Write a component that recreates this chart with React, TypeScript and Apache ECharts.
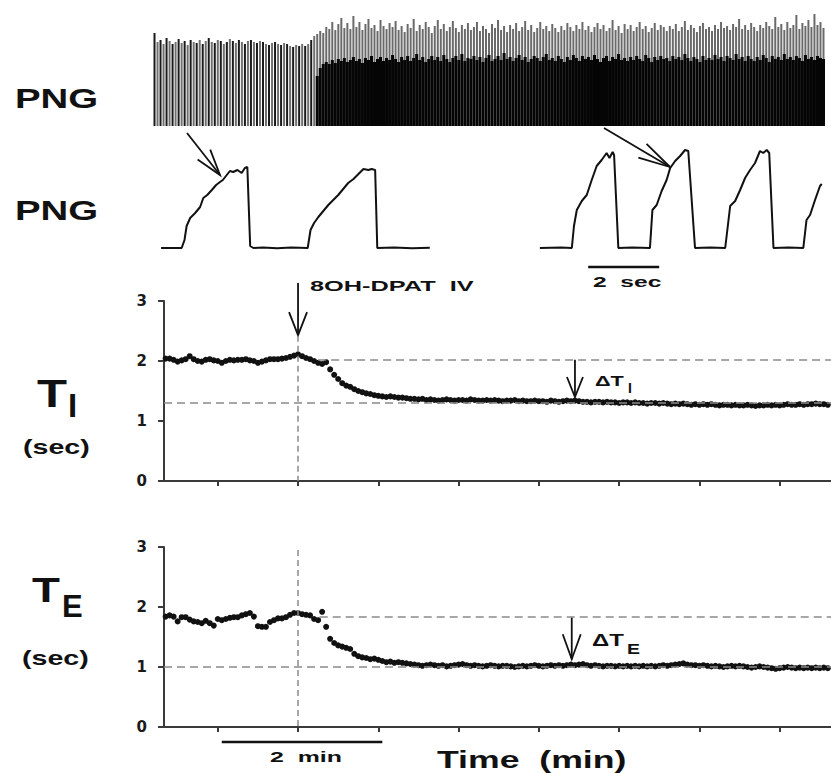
import React, { useEffect, useRef } from "react";
import * as echarts from "echarts";

// ---------- breath-by-breath timing (minutes relative to 8OH-DPAT injection) ----------
const TIME_START = -1.65; // time of first plotted breath, min
const TIME_STEP = 0.05; // min between plotted breaths
const MINUTE_TICKS = [-1, 0, 1, 2, 3, 4, 5, 6];
const X_MIN = -1.67;
const X_MAX = 6.64;

const tiValues = [
  2.04, 2.04, 2.02, 1.99, 2.01, 2.03, 2.08, 2.03, 2.0, 1.99,
  2.02, 2.03, 2.01, 2.0, 1.97, 2.0, 2.02, 2.01, 2.02, 2.02,
  2.03, 2.01, 2.0, 1.97, 1.99, 2.01, 2.03, 2.03, 2.03, 2.04,
  2.05, 2.07, 2.09, 2.11, 2.08, 2.05, 2.03, 2.0, 1.97, 1.95,
  1.98, 1.86, 1.77, 1.7, 1.63, 1.59, 1.57, 1.53, 1.5, 1.48,
  1.46, 1.45, 1.43, 1.42, 1.41, 1.4, 1.41, 1.4, 1.39, 1.39,
  1.38, 1.37,
  1.37, 1.36, 1.37, 1.35, 1.36, 1.35, 1.34, 1.35, 1.36, 1.35,
  1.34, 1.35, 1.35, 1.34, 1.36, 1.35, 1.34, 1.34, 1.35, 1.34,
  1.35, 1.34, 1.33, 1.34, 1.34, 1.35, 1.33, 1.34, 1.33, 1.33,
  1.34, 1.33, 1.33, 1.32, 1.34, 1.33, 1.32, 1.33, 1.34, 1.33,
  1.34, 1.33, 1.32, 1.32, 1.31, 1.32, 1.32, 1.31, 1.32, 1.31,
  1.31, 1.3, 1.31, 1.31, 1.3, 1.31, 1.3, 1.3, 1.29, 1.3,
  1.3, 1.29, 1.3, 1.29, 1.28, 1.29, 1.28, 1.29, 1.28, 1.27,
  1.28, 1.27, 1.28, 1.27, 1.28, 1.27, 1.26, 1.27, 1.27, 1.26,
  1.27, 1.26, 1.26, 1.27, 1.26, 1.25, 1.26, 1.26, 1.27, 1.26,
  1.27, 1.26, 1.27, 1.28, 1.27, 1.27, 1.28, 1.27, 1.28, 1.28,
  1.29, 1.28, 1.28, 1.27,
];

const teValues = [
  1.84, 1.86, 1.84, 1.76, 1.83, 1.83, 1.79, 1.76, 1.75, 1.73,
  1.77, 1.73, 1.69, 1.8, 1.78, 1.8, 1.82, 1.83, 1.83, 1.86,
  1.88, 1.9, 1.84, 1.68, 1.67, 1.67, 1.75, 1.78, 1.81, 1.81,
  1.83, 1.87, 1.9, 1.9, 1.88, 1.87, 1.86, 1.8, 1.78, 1.92,
  1.67, 1.47, 1.4, 1.36, 1.34, 1.32, 1.3, 1.22, 1.18, 1.16,
  1.15, 1.13, 1.14, 1.12, 1.1, 1.08, 1.09, 1.07, 1.08, 1.07,
  1.06, 1.05,
  1.04, 1.03, 1.02, 1.03, 1.04, 1.03, 1.02, 1.03, 1.01, 1.02,
  1.03, 1.04, 1.05, 1.03, 1.02, 1.03, 1.02, 1.01, 1.02, 1.03,
  1.02, 1.01, 1.02, 1.02, 1.01, 1.0, 1.01, 1.02, 1.01, 1.02,
  1.03, 1.02, 1.01, 1.02, 1.03, 1.02, 1.03, 1.02, 1.03, 1.04,
  1.03, 1.04, 1.05, 1.03, 1.02, 1.03, 1.02, 1.01, 1.02, 1.02,
  1.01, 1.02, 1.01, 1.02, 1.01, 1.02, 1.01, 1.02, 1.01, 1.02,
  1.01, 1.02, 1.03, 1.02, 1.03, 1.04, 1.05, 1.06, 1.04, 1.03,
  1.03, 1.02, 1.03, 1.02, 1.01, 1.02, 1.01, 1.0, 1.01, 1.02,
  1.01, 1.02, 1.01, 1.0, 0.99, 1.0, 1.01, 1.0, 0.99, 0.98,
  0.97, 0.98, 0.99, 1.0, 0.99, 0.98, 0.99, 0.98, 0.99, 0.98,
  0.99, 0.98, 0.99, 0.98,
];

// reference levels (sec)
const TI_CONTROL = 2.02;
const TI_PLATEAU = 1.31;
const TE_CONTROL = 1.83;
const TE_PLATEAU = 1.0;
const Y_TICKS = [0, 1, 2, 3];

// ---------- compressed PNG recording: burst amplitudes (arbitrary units) ----------
const pngPrePeaks = [
  93, 84, 86, 82, 88, 85, 82, 84, 87, 83,
  85, 81, 86, 84, 83, 86, 82, 85, 88, 84,
  83, 86, 85, 82, 84, 87, 85, 83, 86, 84,
  82, 85, 86, 84, 83, 85, 84, 82, 81, 83,
  84, 82, 81, 83, 82, 80, 79, 81, 80, 82,
  80, 82, 86, 90,
];
const pngPostPeaks = [
  92, 95, 93, 99, 97, 104, 96, 102, 108, 98, 103, 97, 110,
  99, 104, 96, 102, 107, 98, 101, 95, 106, 100, 97, 103, 99,
  105, 96, 100, 94, 102, 98, 107, 95, 101, 97, 104, 99, 93,
  100, 106, 97, 102, 95, 99, 105, 98, 94, 101, 97, 103, 96,
  99, 104, 95, 100, 97, 93, 102, 98, 106, 96, 100, 94, 101,
  97, 103, 95, 99, 105, 96, 101, 94, 98, 104, 97, 100, 95,
  102, 98, 94, 100, 96, 103, 99, 95, 101, 97, 104, 96, 100,
  94, 99, 103, 97, 101, 95, 98, 106, 96, 100, 93, 102, 97,
  101, 95, 99, 104, 97, 100, 94, 98, 103, 96, 101, 99, 95,
  100, 97, 102, 95, 99, 105, 96, 101, 98, 94, 100, 103, 97,
  99, 95, 101, 97, 104, 98, 100, 96, 102, 99, 107, 97, 101,
  96, 103, 99, 95, 101, 98, 104, 100, 97, 109, 99, 102, 96,
  104, 98, 101, 111, 97, 103, 100, 106, 99, 112, 101, 104, 98,
];
const pngPostCore = [
  50, 58, 62, 64, 62, 66, 63, 67, 65, 68, 64, 66, 69,
  65, 67, 63, 68, 66, 70, 64, 67, 69, 65, 68, 66, 71,
  67, 64, 69, 66, 70, 65, 68, 72, 66, 69, 64, 67, 70,
  66, 69, 65, 71, 67, 64, 68, 70, 66, 72, 65, 68, 67,
  70, 66, 69, 64, 68, 71, 65, 67, 70, 66, 73, 67, 69,
  65, 68, 71, 66, 69, 64, 67, 70, 68, 65, 69, 72, 66,
  68, 65, 70, 67, 64, 69, 66, 71, 68, 65, 70, 67, 69,
  66, 71, 67, 64, 68, 70, 65, 69, 67, 72, 66, 68, 65,
  69, 66, 70, 67, 65, 71, 68, 64, 69, 66, 70, 67, 68,
  65, 70, 67, 69, 66, 72, 68, 65, 69, 67, 64, 70, 66,
  68, 66, 71, 67, 69, 65, 70, 68, 66, 72, 67, 69, 65,
  70, 67, 65, 69, 66, 71, 68, 64, 70, 67, 69, 66, 72,
  67, 69, 66, 70, 68, 65, 71, 67, 69, 66, 70, 68, 67,
];

// ---------- expanded integrated PNG bursts: [time (s), amplitude] ----------
const burstsControl: [number, number][] = [
  [0.03, 0], [0.61, 0], [0.69, 8], [0.75, 22], [0.85, 30], [0.99, 35], [1.13, 41],
  [1.22, 50], [1.33, 53], [1.46, 58], [1.58, 63], [1.69, 66], [1.77, 68], [1.88, 73],
  [1.97, 77], [2.06, 76], [2.18, 78], [2.3, 75], [2.39, 80], [2.46, 81], [2.54, 2],
  [2.63, 0], [2.9, 0.6], [3.3, -0.3], [3.7, 0.5], [4.16, 0], [4.24, 18], [4.34, 25],
  [4.46, 31], [4.6, 37], [4.74, 43], [4.88, 48], [5.02, 53], [5.16, 59], [5.3, 65],
  [5.45, 69], [5.59, 74], [5.73, 79], [5.87, 78], [5.96, 79], [6.06, 78], [6.12, 0],
  [6.6, 0.5], [7.1, -0.3], [7.6, 0.2],
];
const burstsDrug: [number, number][] = [
  [10.7, 0], [11.3, 0.5], [11.6, 0], [11.66, 22], [11.74, 38], [11.88, 47], [12.02, 53],
  [12.16, 68], [12.3, 82], [12.44, 88], [12.58, 95], [12.66, 90], [12.75, 96], [12.79, 93],
  [12.91, 0], [13.3, 0.5], [13.8, 0], [13.87, 38], [13.99, 43], [14.13, 57], [14.27, 68],
  [14.37, 80], [14.51, 87], [14.65, 92], [14.79, 98], [14.88, 97], [15.07, 0], [15.5, 0.5],
  [15.92, 0], [16.06, 42], [16.2, 47], [16.34, 58], [16.48, 70], [16.62, 78], [16.76, 85],
  [16.9, 97], [16.99, 95], [17.09, 98], [17.16, 95], [17.28, 0], [17.7, 0.5], [18.12, 0],
  [18.21, 28], [18.31, 33], [18.45, 48], [18.59, 62], [18.64, 64],
];
const SEC_BAR = [12.06, 14.06]; // 2 sec scale bar
const MIN_BAR = [-0.95, 1.05]; // 2 min scale bar

const FONT = '"Liberation Sans", Arial, Helvetica, sans-serif';

export default function App() {
  const ref = useRef<HTMLDivElement>(null);

  useEffect(() => {
    const chart = echarts.init(ref.current!, null, { renderer: "svg" });

    const times = tiValues.map((_, i) => Math.round((TIME_START + i * TIME_STEP) * 1000) / 1000);
    const tiData = tiValues.map((v, i) => [times[i], v]);
    const teData = teValues.map((v, i) => [times[i], v]);

    const nPng = pngPrePeaks.length + pngPostPeaks.length;
    const pngCats = Array.from({ length: nPng }, (_, i) => String(i));
    const peakData = [
      ...pngPrePeaks.map((v, i) => ({ value: v, itemStyle: { color: i % 2 ? "#707070" : "#1a1a1a" } })),
      ...pngPostPeaks.map((v) => ({ value: v, itemStyle: { color: "#6a6a6a" } })),
    ];
    const coreData = [...pngPrePeaks.map(() => null), ...pngPostCore];

    const axisLineStyle = { color: "#3a3a3a", width: 2 };
    const timeXAxis = (gridIndex: number) => ({
      type: "value",
      gridIndex,
      min: X_MIN,
      max: X_MAX,
      axisLine: { show: true, onZero: false, lineStyle: axisLineStyle },
      axisTick: { show: true, customValues: MINUTE_TICKS, length: 5, inside: false, lineStyle: { color: "#3a3a3a", width: 2 } },
      axisLabel: { show: false },
      splitLine: { show: false },
    });
    const secYAxis = (gridIndex: number) => ({
      type: "value",
      gridIndex,
      min: 0,
      max: 3,
      interval: 1,
      axisLine: { show: true, onZero: false, lineStyle: axisLineStyle },
      axisTick: { show: true, length: 6, inside: false, lineStyle: { color: "#3a3a3a", width: 2 } },
      axisLabel: {
        show: true,
        margin: 17,
        color: "#1a1a1a",
        fontWeight: "bold",
        fontSize: 15,
        fontFamily: '"DejaVu Sans", sans-serif',
        customValues: Y_TICKS,
      },
      splitLine: { show: false },
    });
    const dashed = { type: [8, 5], color: "#8a8a8a", width: 1.5 };
    const vdashed = { type: [6, 4], color: "#8a8a8a", width: 1.5 };

    const option: any = {
      animation: false,
      backgroundColor: "#ffffff",
      grid: [
        { left: 153, top: 12, width: 672, height: 114 },
        { left: 160, top: 148, width: 671, height: 100 },
        { left: 164, top: 301, width: 667, height: 180 },
        { left: 164, top: 547, width: 667, height: 180 },
      ],
      xAxis: [
        { type: "category", gridIndex: 0, data: pngCats, show: false, boundaryGap: true },
        { type: "value", gridIndex: 1, min: 0, max: 18.9, show: false },
        timeXAxis(2),
        timeXAxis(3),
        { type: "category", gridIndex: 0, data: pngCats, show: false, boundaryGap: true },
      ],
      yAxis: [
        { type: "value", gridIndex: 0, min: 0, max: 114, show: false },
        { type: "value", gridIndex: 1, min: 0, max: 100, show: false },
        secYAxis(2),
        secYAxis(3),
      ],
      series: [
        {
          name: "PNG compressed",
          type: "bar",
          xAxisIndex: 0,
          yAxisIndex: 0,
          data: peakData,
          barWidth: 2,
          z: 2,
        },
        {
          name: "PNG core",
          type: "bar",
          xAxisIndex: 4,
          yAxisIndex: 0,
          data: coreData,
          barWidth: "100%",
          itemStyle: { color: "#050505" },
          z: 3,
        },
        {
          name: "PNG control",
          type: "line",
          xAxisIndex: 1,
          yAxisIndex: 1,
          data: burstsControl,
          showSymbol: false,
          clip: false,
          lineStyle: { color: "#111", width: 2 },
        },
        {
          name: "PNG drug",
          type: "line",
          xAxisIndex: 1,
          yAxisIndex: 1,
          data: burstsDrug,
          showSymbol: false,
          clip: false,
          lineStyle: { color: "#111", width: 2 },
        },
        {
          name: "TI guides",
          type: "line",
          xAxisIndex: 2,
          yAxisIndex: 2,
          data: [],
          z: 1,
          markLine: {
            silent: true,
            symbol: "none",
            label: { show: false },
            lineStyle: dashed,
            data: [
              [{ coord: [0.25, TI_CONTROL] }, { coord: [X_MAX, TI_CONTROL] }],
              [{ coord: [X_MIN, TI_PLATEAU] }, { coord: [X_MAX, TI_PLATEAU] }],
              [{ coord: [0, 2.42], lineStyle: vdashed }, { coord: [0, 0] }],
            ],
          },
        },
        {
          name: "TE guides",
          type: "line",
          xAxisIndex: 3,
          yAxisIndex: 3,
          data: [],
          z: 1,
          markLine: {
            silent: true,
            symbol: "none",
            label: { show: false },
            lineStyle: dashed,
            data: [
              [{ coord: [0.27, TE_CONTROL] }, { coord: [X_MAX, TE_CONTROL] }],
              [{ coord: [X_MIN, TE_PLATEAU] }, { coord: [X_MAX, TE_PLATEAU] }],
              [{ coord: [0, 2.95], lineStyle: vdashed }, { coord: [0, 0] }],
            ],
          },
        },
        {
          name: "TI",
          type: "scatter",
          xAxisIndex: 2,
          yAxisIndex: 2,
          data: tiData,
          symbolSize: 6,
          itemStyle: { color: "#111", opacity: 1 },
          z: 3,
        },
        {
          name: "TE",
          type: "scatter",
          xAxisIndex: 3,
          yAxisIndex: 3,
          data: teData,
          symbolSize: 6,
          itemStyle: { color: "#111", opacity: 1 },
          z: 3,
        },
      ],
    };
    chart.setOption(option);

    const px = (grid: number, pt: number[]) => chart.convertToPixel({ gridIndex: grid }, pt) as number[];

    const arrow = (x1: number, y1: number, x2: number, y2: number, L: number, W: number) => {
      const dx = x2 - x1;
      const dy = y2 - y1;
      const len = Math.hypot(dx, dy);
      const ux = dx / len;
      const uy = dy / len;
      const nx = -uy;
      const ny = ux;
      const bx = x2 - ux * L;
      const by = y2 - uy * L;
      const style = { stroke: "#111", lineWidth: 1.8, fill: "none" };
      return [
        { type: "line", shape: { x1, y1, x2, y2 }, style, silent: true },
        {
          type: "polyline",
          shape: { points: [[bx + nx * W, by + ny * W], [x2, y2], [bx - nx * W, by - ny * W]] },
          style,
          silent: true,
        },
      ];
    };

    const text = (t: string, x: number, y: number, size: number, sx = 1) => ({
      type: "text",
      x,
      y,
      scaleX: sx,
      silent: true,
      style: {
        text: t,
        font: `bold ${size}px ${FONT}`,
        fill: "#111",
        textAlign: "left",
        align: "left",
        textVerticalAlign: "middle",
        verticalAlign: "middle",
      },
    });

    const injTip = px(2, [0, 2.43]);
    const dTi = 3.45;
    const dTiTop = px(2, [dTi, TI_CONTROL]);
    const dTiTip = px(2, [dTi, 1.4]);
    const dTe = 3.41;
    const dTeTop = px(3, [dTe, TE_CONTROL]);
    const dTeTip = px(3, [dTe, 1.13]);
    const secA = px(1, [SEC_BAR[0], 0]);
    const secB = px(1, [SEC_BAR[1], 0]);
    const minA = px(3, [MIN_BAR[0], 0]);
    const minB = px(3, [MIN_BAR[1], 0]);

    const graphic: any[] = [
      ...arrow(187, 133, 220, 175, 26, 8),
      ...arrow(604, 128, 670, 167, 32, 8),
      ...arrow(injTip[0], 283, injTip[0], injTip[1], 23, 9),
      ...arrow(dTiTop[0], dTiTop[1], dTiTip[0], dTiTip[1], 20, 8),
      ...arrow(dTeTop[0], dTeTop[1], dTeTip[0], dTeTip[1], 25, 9),
      { type: "line", shape: { x1: secA[0], y1: 267, x2: secB[0], y2: 267 }, style: { stroke: "#111", lineWidth: 2.5 }, silent: true },
      { type: "line", shape: { x1: minA[0], y1: 742, x2: minB[0], y2: 742 }, style: { stroke: "#111", lineWidth: 2.5 }, silent: true },
      text("PNG", 15, 98, 28, 1.37),
      text("PNG", 15, 210, 28, 1.37),
      text("8OH-DPAT  IV", 310, 286, 15, 1.69),
      text("2  sec", 593, 282, 15, 1.64),
      text("T", 37, 393, 39, 1.26),
      text("I", 68, 405, 33, 1),
      text("(sec)", 23, 447, 20, 1.43),
      text("T", 32, 590, 36, 1.27),
      text("E", 62, 606, 31, 1),
      text("(sec)", 22, 658, 20, 1.43),
      text("\u0394T", 595, 381, 14, 1.55),
      text("I", 628, 388, 14, 1),
      text("\u0394T", 592, 641, 16, 1.5),
      text("E", 627, 649, 15, 1.3),
      text("2  min", 270, 757, 15, 1.66),
      text("Time  (min)", 437, 760, 23, 1.55),
    ];
    chart.setOption({ graphic });

    return () => chart.dispose();
  }, []);

  return (
    <div
      ref={ref}
      style={{ position: "fixed", left: 0, top: 0, width: 831, height: 773, background: "#ffffff" }}
    />
  );
}
